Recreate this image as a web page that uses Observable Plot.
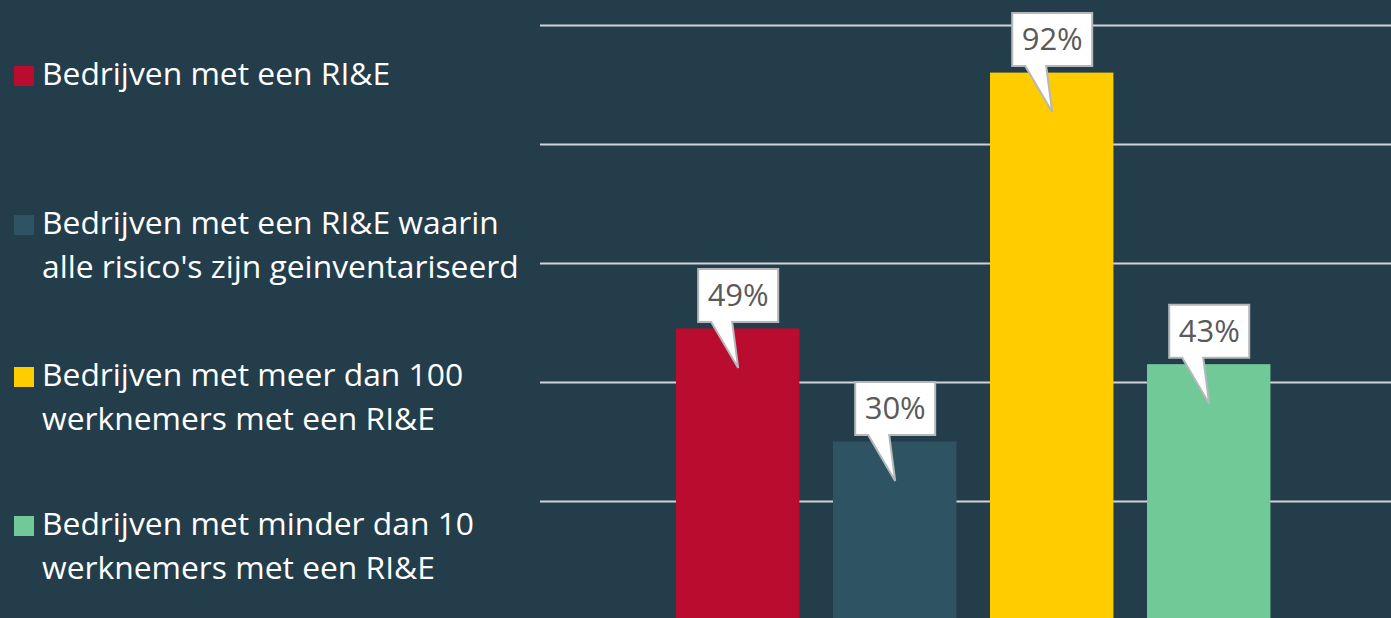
<!DOCTYPE html>
<html>
<head>
<meta charset="utf-8">
<script src="https://cdn.jsdelivr.net/npm/d3@7"></script>
<script src="https://cdn.jsdelivr.net/npm/@observablehq/plot@0.6"></script>
<style>
  html, body { margin: 0; padding: 0; background: #243d4b; overflow: hidden; }
  #wrap { position: relative; width: 1391px; height: 618px; overflow: hidden; }
  #chart { position: absolute; left: 0; top: 0; }
  .legend { position: absolute; left: 0; top: 0; font-family: "Open Sans", sans-serif; color: #ffffff; font-size: 31.8px; line-height: 44px; }
  .item { position: absolute; left: 42px; white-space: nowrap; }
  .sw { position: absolute; left: -28px; width: 20px; height: 20px; }
</style>
</head>
<body>
<div id="wrap">
  <div id="chart"></div>
  <div class="legend" id="legend"></div>
</div>
<script>
const categories = [
  "Bedrijven met een RI&E",
  "Bedrijven met een RI&E waarin alle risico's zijn geinventariseerd",
  "Bedrijven met meer dan 100 werknemers met een RI&E",
  "Bedrijven met minder dan 10 werknemers met een RI&E"
];
const legendLines = [
  ["Bedrijven met een RI&E"],
  ["Bedrijven met een RI&E waarin", "alle risico's zijn geinventariseerd"],
  ["Bedrijven met meer dan 100", "werknemers met een RI&E"],
  ["Bedrijven met minder dan 10", "werknemers met een RI&E"]
];
const values = [49, 30, 92, 43];
const colors = ["#ba0c2f", "#2e5464", "#ffcc00", "#71c997"];
const gridTicks = [20, 40, 60, 80, 100];

const data = categories.map((c, i) => ({category: c, value: values[i], label: values[i] + "%"}));

const callout = {
  draw(ctx) {
    ctx.moveTo(-40, -60);
    ctx.lineTo(40, -60);
    ctx.lineTo(40, -7);
    ctx.lineTo(-6, -7);
    ctx.lineTo(0, 39);
    ctx.lineTo(-27, -7);
    ctx.lineTo(-40, -7);
    ctx.closePath();
  }
};

const plot = Plot.plot({
  width: 1391,
  height: 620,
  marginLeft: 540,
  marginRight: 0,
  marginTop: 25,
  marginBottom: 0,
  style: {background: "transparent", fontFamily: "Open Sans, sans-serif"},
  x: {domain: categories, round: false, paddingInner: 0.214, paddingOuter: 0.817, align: 0.53, axis: null},
  y: {domain: [0, 100], axis: null},
  color: {domain: categories, range: colors},
  marks: [
    Plot.ruleY(gridTicks, {stroke: "#cfd4d8", strokeWidth: 2}),
    Plot.barY(data, {x: "category", y: "value", fill: "category"}),
    Plot.dot(data, {x: "category", y: "value", symbol: callout, r: 10, fill: "#ffffff", stroke: "#b4b8bb", strokeWidth: 2}),
    Plot.text(data, {x: "category", y: "value", text: "label", dy: -33, fontSize: 31, fill: "#5a5a5a", fontFamily: "Open Sans, sans-serif"})
  ]
});
document.getElementById("chart").appendChild(plot);

const tops = [51, 200, 352, 501];
const legend = document.getElementById("legend");
legendLines.forEach((lines, i) => {
  const d = document.createElement("div");
  d.className = "item";
  d.style.top = tops[i] + "px";
  const sw = document.createElement("span");
  sw.className = "sw";
  sw.style.background = colors[i];
  sw.style.top = "15px";
  d.appendChild(sw);
  lines.forEach((t, j) => {
    if (j) d.appendChild(document.createElement("br"));
    d.appendChild(document.createTextNode(t));
  });
  legend.appendChild(d);
});
</script>
</body>
</html>
